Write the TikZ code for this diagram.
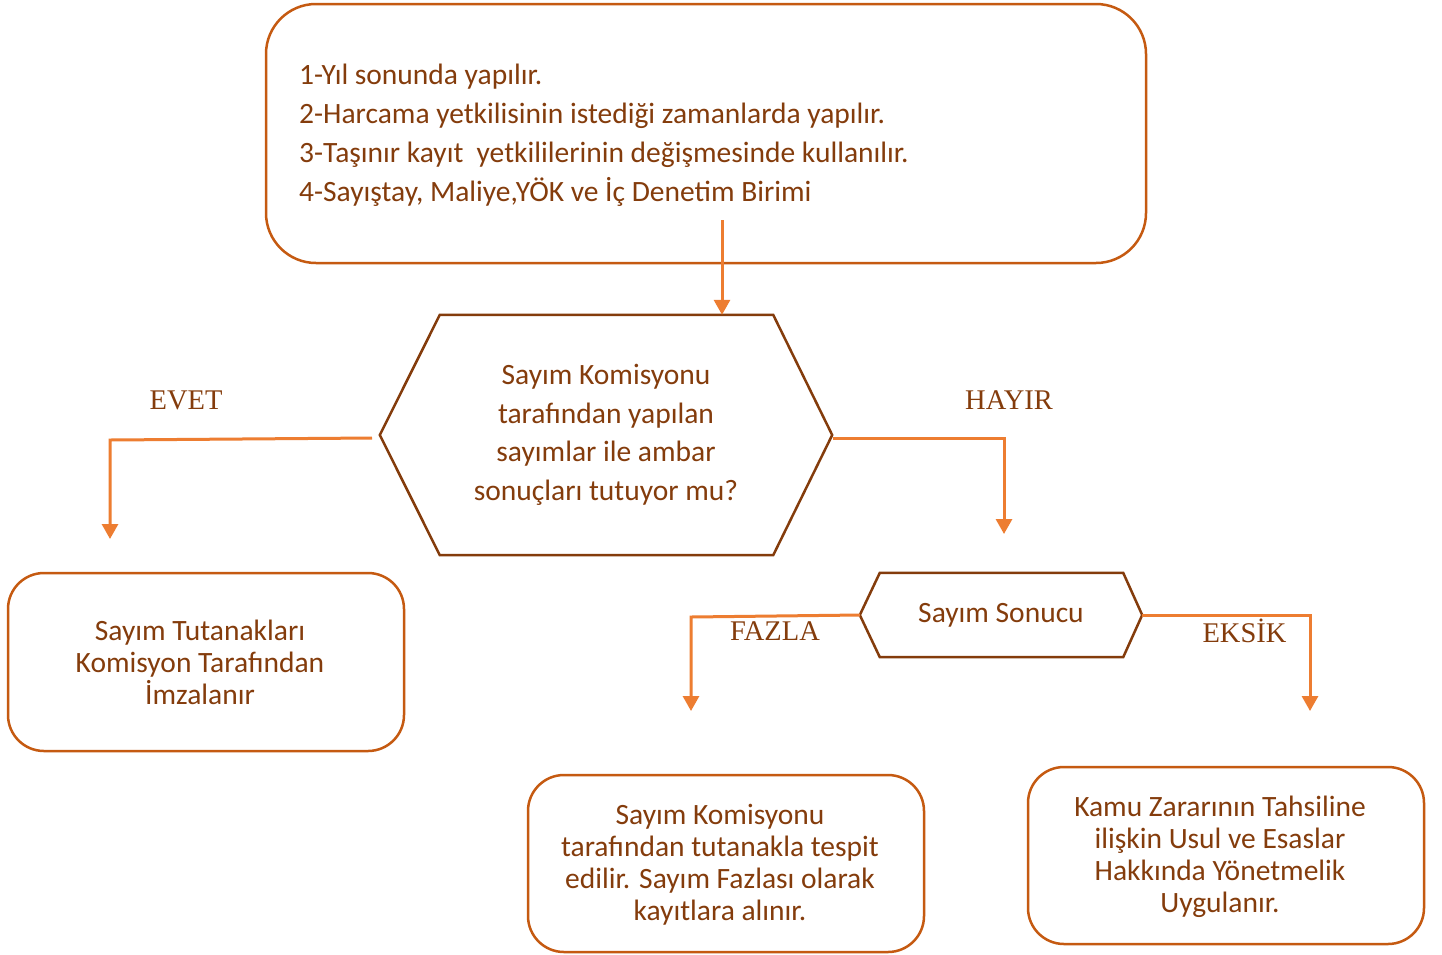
\documentclass[tikz,border=0pt]{standalone}
\usepackage{fontspec}
\setmainfont{Carlito}
\newfontfamily\tnr{Liberation Serif}
\usetikzlibrary{arrows.meta,calc}
\definecolor{txt}{HTML}{843C0C}
\definecolor{boxc}{HTML}{C55A11}
\definecolor{arrc}{HTML}{ED7D31}
\definecolor{hexc}{HTML}{843C0C}
\tikzset{
  rbox/.style={draw=boxc, line width=2.5pt, rounded corners=36pt, inner sep=0pt},
  btext/.style={text=txt, align=center, font=\fontsize{29.5}{32}\selectfont, inner sep=0pt},
  hexarea/.style={inner sep=0pt, text=txt, align=center},
  hexline/.style={draw=hexc, line width=2.5pt, line join=miter},
  arr/.style={draw=arrc, line width=3pt, -{Triangle[width=16pt,length=15pt]}},
  lbl/.style={text=txt, font=\tnr\fontsize{28.5}{32}\selectfont, inner sep=0pt},
}
\begin{document}
\begin{tikzpicture}[x=1pt,y=-1pt]
\useasboundingbox (0,0) rectangle (1442,954);
\fill[white] (0,0) rectangle (1442,954);

% top box
\node[rbox, rounded corners=50pt, minimum width=880pt, minimum height=259pt] (top) at (706,133.5) {};
\node[text=txt, anchor=west, align=left, inner sep=0pt, font=\fontsize{29.5}{39}\selectfont] (toptext) at (299,135.5)
 {1-Yıl sonunda yapılır.\\2-Harcama yetkilisinin istediği zamanlarda yapılır.\\3-Taşınır kayıt\ \ yetkililerinin değişmesinde kullanılır.\\4-Sayıştay, Maliye,YÖK ve İç Denetim Birimi};

% decision hexagon
\node[hexarea, minimum width=452pt, minimum height=240pt, font=\fontsize{29.5}{38.5}\selectfont] (q) at (606,435)
 {Sayım Komisyonu\\tarafından yapılan\\sayımlar ile ambar\\sonuçları tutuyor mu?};
\draw[hexline] (q.west) -- ($(q.north west)+(60,0)$) -- ($(q.north east)+(-59,0)$) -- (q.east)
  -- ($(q.south east)+(-59,0)$) -- ($(q.south west)+(60,0)$) -- cycle;

% arrow top -> hexagon
\coordinate (a0) at (722,220);
\draw[arr] (a0) -- (a0 |- q.north);

% EVET / HAYIR
\node[lbl] (evet) at (186,400) {EVET};
\node[lbl] (hayir) at (1009,400) {HAYIR};

% left box
\node[rbox, minimum width=396pt, minimum height=178pt] (left) at (206,662) {};
\node[btext] (lefttext) at (200,662) {Sayım Tutanakları\\Komisyon Tarafından\\İmzalanır};

\coordinate (l0) at (372,438);
\coordinate (l1) at (110,440);
\coordinate (l2) at (110,539);
\draw[arr] (l0) -- (l1) -- (l2);

% right branch
\coordinate (r0) at (833,438);
\coordinate (r1) at (1004,438);
\coordinate (r2) at (1004,534);
\draw[arr] (r0) -- (r1) -- (r2);

% result hexagon
\node[hexarea, minimum width=282pt, minimum height=84pt, font=\fontsize{29.5}{32}\selectfont] (s) at (1001,615)
 {\raisebox{3pt}{Sayım Sonucu}};
\draw[hexline] (s.west) -- ($(s.north west)+(20,0)$) -- ($(s.north east)+(-19,0)$) -- (s.east)
  -- ($(s.south east)+(-19,0)$) -- ($(s.south west)+(20,0)$) -- cycle;

\node[lbl] (fazla) at (775,631) {FAZLA};
\node[lbl] (eksik) at (1244.5,631) {EKSİK};

\coordinate (f1) at (691,617);
\coordinate (f2) at (691,711);
\draw[arr] (s.west) -- (f1) -- (f2);
\coordinate (e1) at (1310,615);
\coordinate (e2) at (1310,711);
\draw[arr] (s.east) -- (e1) -- (e2);

% bottom boxes
\node[rbox, minimum width=396pt, minimum height=177pt] (fbox) at (726,863.5) {};
\node[btext] (ftext) at (720,865) {Sayım Komisyonu\\tarafından tutanakla tespit\\edilir. Sayım Fazlası olarak\\kayıtlara alınır.};
\node[rbox, minimum width=396pt, minimum height=177pt] (ebox) at (1226,855.5) {};
\node[btext] (etext) at (1220,857) {Kamu Zararının Tahsiline\\ilişkin Usul ve Esaslar\\Hakkında Yönetmelik\\Uygulanır.};
\end{tikzpicture}
\end{document}
